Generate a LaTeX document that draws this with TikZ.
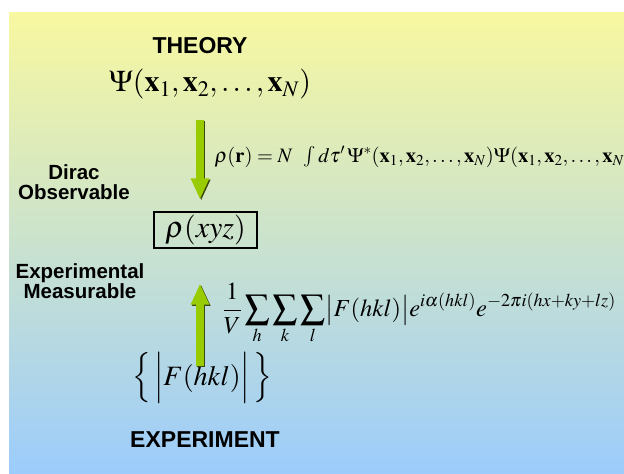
\documentclass[tikz,border=0pt]{standalone}
\usepackage{mathptmx}
\usepackage{fontspec}
\setmainfont{Liberation Serif}
\setsansfont{Liberation Sans}
\usetikzlibrary{arrows.meta,positioning,calc}
\definecolor{topyellow}{HTML}{F8F8A0}
\definecolor{midgrey}{HTML}{CCE2CE}
\definecolor{lowblue}{HTML}{9CCCFC}
\definecolor{arrowgreen}{HTML}{99CC00}
\definecolor{arrowdark}{HTML}{3C4A10}

\tikzset{
  heading/.style={font=\sffamily\bfseries\fontsize{23}{26}\selectfont},
  sidelabel/.style={font=\sffamily\bfseries\fontsize{20.5}{19.5}\selectfont, align=center},
  flow/.style={line width=8pt, arrowgreen, -{Triangle[width=17pt,length=21pt]}},
  flowshade/.style={flow, arrowdark, transform canvas={shift={(1.2pt,-1.2pt)}}},
}

\begin{document}
\begin{tikzpicture}[x=1pt, y=-1pt]
  \useasboundingbox (0,0) rectangle (624,474);
  \shade[top color=topyellow, middle color=midgrey, bottom color=lowblue] (9,12) rectangle (624,474);

  \node[heading] (theory) at (200,46) {THEORY};
  \node[font=\fontsize{30}{34}\selectfont] (psi) at (210,84)
    {$\Psi(\mathbf{x}_1,\mathbf{x}_2,\ldots,\mathbf{x}_N)$};
  \node[anchor=west, font=\fontsize{20.5}{24}\selectfont] (density) at (211,157)
    {$\rho(\mathbf{r}) = N\;\;\int d\tau'\,\Psi^*(\mathbf{x}_1,\mathbf{x}_2,\ldots,\mathbf{x}_N)\Psi(\mathbf{x}_1,\mathbf{x}_2,\ldots,\mathbf{x}_N$};
  \node[sidelabel] (dirac) at (74,182) {Dirac\\Observable};
  \node[draw, line width=1.1pt, minimum width=103pt, minimum height=36pt, inner sep=0pt,
        font=\fontsize{30}{34}\selectfont] (rho) at (205.5,230) {$\rho(xyz)$};
  \node[sidelabel] (measure) at (80,281) {Experimental\\Measurable};
  \node[anchor=west, font=\fontsize{24.5}{28}\selectfont] (synth) at (219,314)
    {$\displaystyle \frac{1}{V}\sum_h\sum_k\sum_l \bigl|F(hkl)\bigr| e^{i\alpha(hkl)} e^{-2\pi i(hx+ky+lz)}$};
  \node[font=\fontsize{28}{32}\selectfont] (amps) at (202,378)
    {$\Bigl\{\,\Bigl|F(hkl)\Bigr|\,\Bigr\}$};
  \node[heading] (expt) at (205,440) {EXPERIMENT};

  % theory -> density, experiment -> density
  \coordinate (dstart) at (200,120);
  \coordinate (ustart) at (200,366);
  \draw[flowshade] (dstart) -- ([yshift=12pt]dstart |- rho.north);
  \draw[flow] (dstart) -- ([yshift=12pt]dstart |- rho.north);
  \draw[flowshade] (ustart) -- ([yshift=-35pt]ustart |- rho.south);
  \draw[flow] (ustart) -- ([yshift=-35pt]ustart |- rho.south);
\end{tikzpicture}
\end{document}
